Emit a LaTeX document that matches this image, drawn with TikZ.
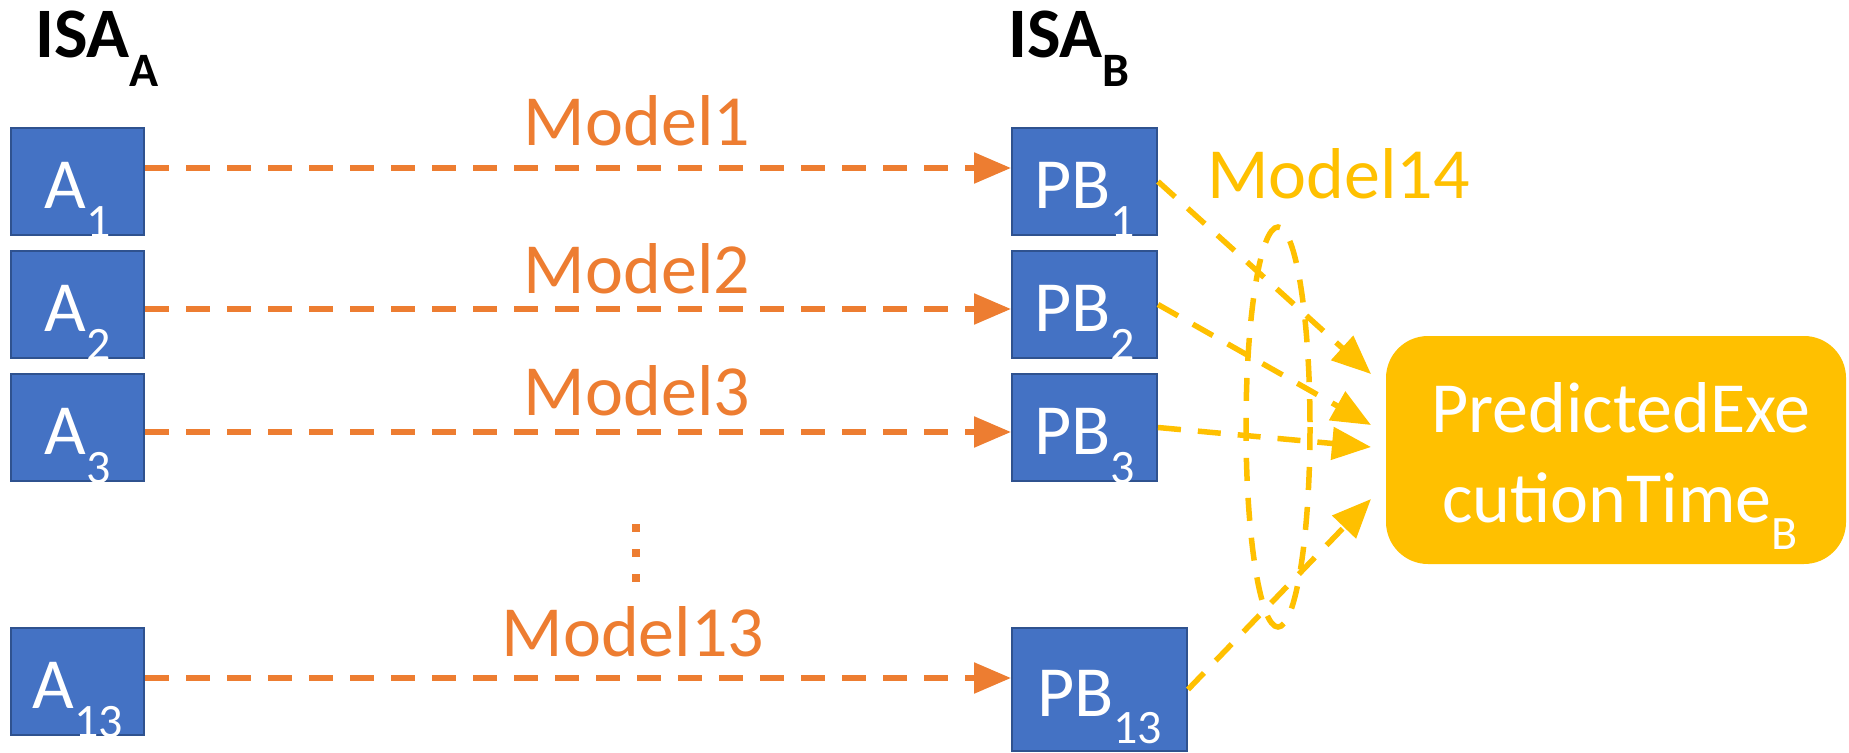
\documentclass[tikz,border=0pt]{standalone}
\usepackage{fontspec}
\setmainfont{Carlito}
\usetikzlibrary{arrows.meta}
\definecolor{oorange}{HTML}{ED7D31}
\definecolor{oyellow}{HTML}{FFC000}
\definecolor{oblue}{HTML}{4472C4}
\definecolor{oblueline}{HTML}{2F528F}
\newcommand{\mysub}[2][-29pt]{\raisebox{#1}{\fontsize{48}{48}\selectfont #2}}
\tikzset{
  bigfont/.style={font=\fontsize{72}{86}\selectfont},
  bluebox/.style={draw=oblueline, line width=2pt, fill=oblue, text=white, inner sep=0pt,
     text height=53pt, text depth=0pt, bigfont},
  oarr/.style={draw=oorange, line width=5.5pt, dash pattern=on 24pt off 17pt,
     -{Triangle[length=37pt,width=30pt]}, oorange},
  yarr/.style={draw=oyellow, line width=5.5pt, dash pattern=on 23pt off 17pt,
     -{Triangle[length=39pt,width=32pt]}, oyellow},
  ydash/.style={draw=oyellow, line width=5.5pt, dash pattern=on 23pt off 17pt},
  mlabel/.style={text=oorange, bigfont, anchor=base, inner sep=0pt},
}
\begin{document}
\begin{tikzpicture}[x=1pt,y=-1pt]
\useasboundingbox (0,0) rectangle (1849,752);
% headers
\node[anchor=base west, inner sep=0pt, font=\fontsize{71}{86}\selectfont\bfseries] (isaA) at (35,57) {ISA\mysub{A}};
\node[anchor=base west, inner sep=0pt, font=\fontsize{71}{86}\selectfont\bfseries] (isaB) at (1008,57) {ISA\mysub{B}};
% A boxes
\node[bluebox, minimum width=133pt, minimum height=107pt] (A1) at (77.5,181.5) {A\mysub{1}};
\node[bluebox, minimum width=133pt, minimum height=107pt] (A2) at (77.5,304.5) {A\mysub{2}};
\node[bluebox, minimum width=133pt, minimum height=107pt] (A3) at (77.5,427.5) {A\mysub{3}};
\node[bluebox, minimum width=133pt, minimum height=107pt] (A13) at (77.5,681.5) {A\mysub{13}};
% PB boxes
\node[bluebox, minimum width=145pt, minimum height=107pt] (PB1) at (1084.5,181.5) {PB\mysub{1}};
\node[bluebox, minimum width=145pt, minimum height=107pt] (PB2) at (1084.5,304.5) {PB\mysub{2}};
\node[bluebox, minimum width=145pt, minimum height=107pt] (PB3) at (1084.5,427.5) {PB\mysub{3}};
\node[bluebox, minimum width=175pt, minimum height=123pt] (PB13) at (1099.5,689.5) {PB\mysub[-27pt]{13}};
% predicted box
\node[fill=oyellow, rounded corners=42pt, minimum width=460pt, minimum height=228pt, inner sep=0pt] (P) at (1616,450) {};
\node[anchor=base, inner sep=0pt, text=white, bigfont] (P1) at (1621,432) {PredictedExe};
\node[anchor=base, inner sep=0pt, text=white, bigfont] (P2) at (1620,522) {cutionTime\mysub[-27pt]{B}};
% orange arrows and labels
\draw[oarr] ([yshift=13.5pt]A1.east) -- ([yshift=13.5pt]PB1.west);
\draw[oarr] ([yshift=-4.5pt]A2.east) -- ([yshift=-4.5pt]PB2.west);
\draw[oarr] ([yshift=-4.5pt]A3.east) -- ([yshift=-4.5pt]PB3.west);
\draw[oarr] ([yshift=3.5pt]A13.east) -- ([yshift=11.5pt]PB13.west);
\node[mlabel] (m1) at (637,145) {Model1};
\node[mlabel] (m2) at (637,293) {Model2};
\node[mlabel] (m3) at (637,415) {Model3};
\node[mlabel] (m13) at (633,656) {Model13};
% vertical dots
\fill[oorange] (632,524) rectangle (640,532);
\fill[oorange] (632,549) rectangle (640,557);
\fill[oorange] (632,574) rectangle (640,582);
% yellow arrows
\coordinate (t1) at (1371,374);
\coordinate (t2) at (1371,425);
\coordinate (t3) at (1371,447);
\coordinate (t4) at (1371,499);
\draw[yarr] (PB1.east) -- (t1);
\draw[yarr] (PB2.east) -- (t2);
\draw[yarr] (PB3.east) -- (t3);
\draw[yarr] (PB13.east) -- (t4);
\draw[ydash] (1278,427) ellipse [x radius=32, y radius=200];
\node[anchor=base west, inner sep=0pt, text=oyellow, bigfont] (m14) at (1207,198) {Model14};
\end{tikzpicture}
\end{document}
